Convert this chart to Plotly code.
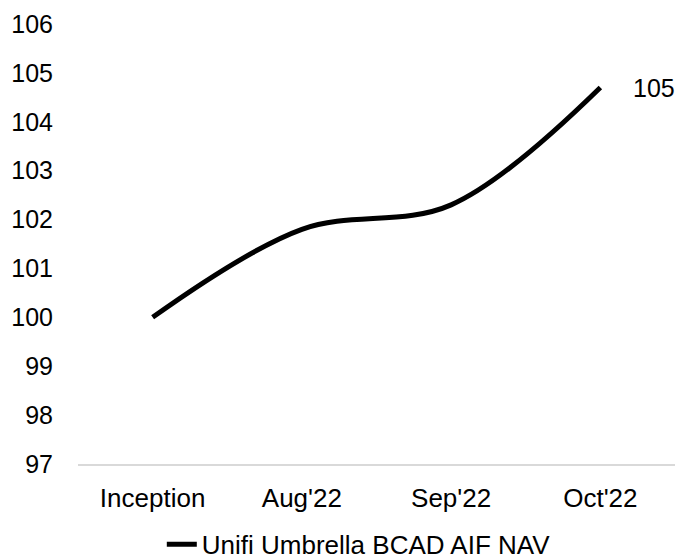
import plotly.graph_objects as go

categories = ["Inception", "Aug'22", "Sep'22", "Oct'22"]
nav_values = [100.0, 101.8, 102.3, 104.7]
series_name = "Unifi Umbrella BCAD AIF NAV"
y_ticks = [97, 98, 99, 100, 101, 102, 103, 104, 105, 106]

FONT = "Liberation Sans, Arial, sans-serif"

fig = go.Figure()
fig.add_trace(go.Scatter(
    x=categories, y=nav_values, name=series_name, mode="lines",
    line=dict(color="#000000", width=5, shape="spline", smoothing=1),
    showlegend=True,
))

fig.add_annotation(
    x=categories[-1], y=nav_values[-1], text=f"{round(nav_values[-1])}",
    showarrow=False, xanchor="left", yanchor="middle", xshift=31,
    font=dict(family=FONT, size=25, color="#000000"),
)

fig.update_layout(
    width=677, height=560,
    margin=dict(l=78, r=2, t=24, b=96, autoexpand=False),
    paper_bgcolor="white", plot_bgcolor="white",
    font=dict(family=FONT, size=25, color="#000000"),
    showlegend=True,
    legend=dict(orientation="h", xref="container", yref="container",
                x=0.239, xanchor="left", y=0.028, yanchor="middle",
                font=dict(family=FONT, size=26, color="#000000"),
                bgcolor="rgba(0,0,0,0)"),
)
fig.update_xaxes(
    type="category", range=[-0.5, 3.5], showgrid=False, zeroline=False,
    showline=True, linecolor="#d9d9d9", linewidth=2, ticks="",
    ticklabelstandoff=10, automargin=False,
    tickfont=dict(family=FONT, size=26, color="#000000"),
)
fig.update_yaxes(
    range=[97, 106], tickvals=y_ticks, showgrid=False, zeroline=False,
    showline=False, ticks="", ticklabelstandoff=24, automargin=False,
    tickfont=dict(family=FONT, size=25, color="#000000"),
)

fig.write_html("out.html", config={"displayModeBar": False},
               post_script="document.body.style.margin='0';")
